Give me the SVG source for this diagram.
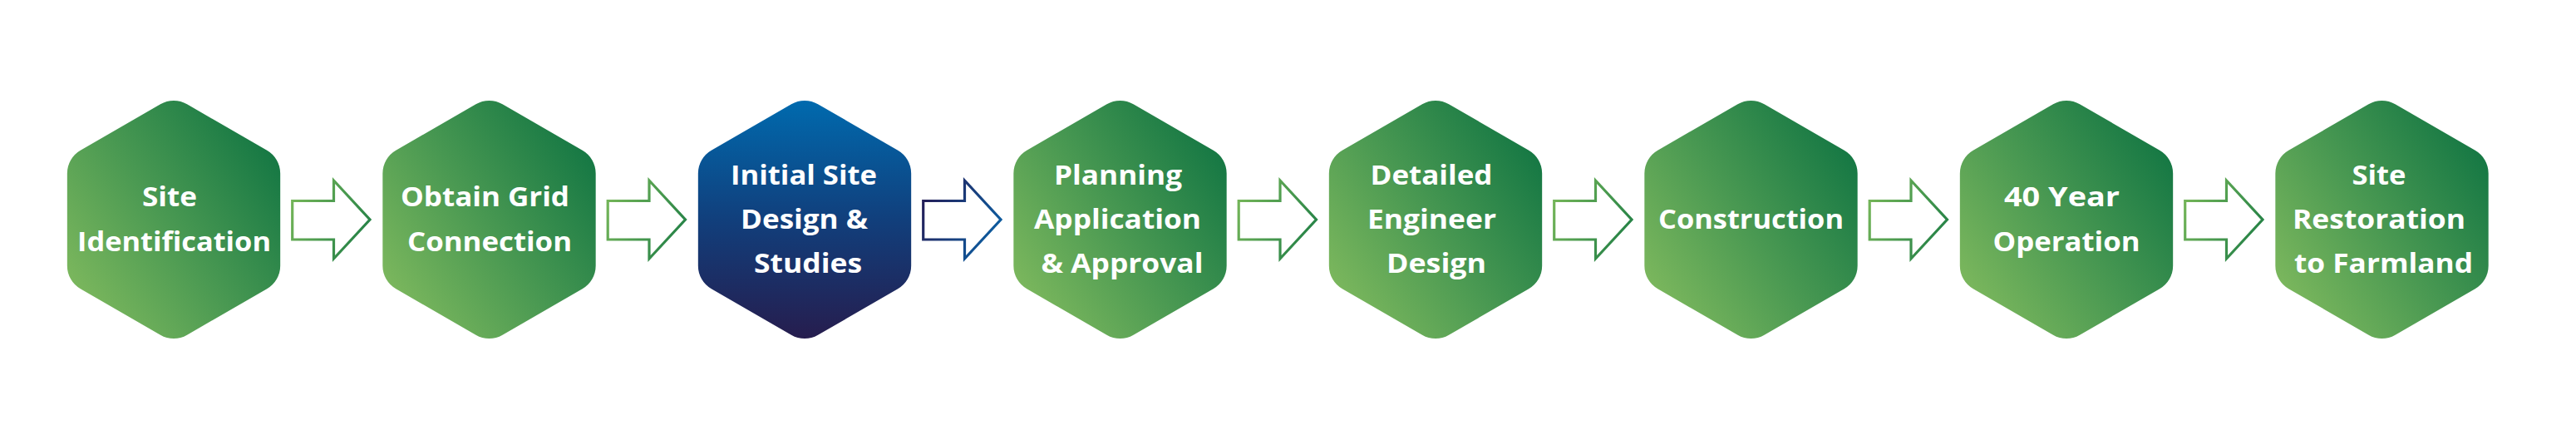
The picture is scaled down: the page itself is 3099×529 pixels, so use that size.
<svg xmlns="http://www.w3.org/2000/svg" xmlns:xlink="http://www.w3.org/1999/xlink" width="3099" height="529" viewBox="0 0 3099 529">
<defs>
<linearGradient id="gGreen" x1="0.05" y1="0.9" x2="0.95" y2="0.2">
<stop offset="0" stop-color="#80ba5e"/>
<stop offset="0.5" stop-color="#4a9952"/>
<stop offset="1" stop-color="#167844"/>
</linearGradient>
<linearGradient id="gBlue" x1="0" y1="0" x2="0" y2="1">
<stop offset="0" stop-color="#006aae"/>
<stop offset="0.5" stop-color="#113f7c"/>
<stop offset="1" stop-color="#261d4e"/>
</linearGradient>
<linearGradient id="aGreen" x1="0" y1="0.3" x2="1" y2="0.8">
<stop offset="0" stop-color="#72b458"/>
<stop offset="1" stop-color="#1f7e45"/>
</linearGradient>
<linearGradient id="aBlue" x1="0" y1="0.3" x2="1" y2="0.8">
<stop offset="0" stop-color="#24205a"/>
<stop offset="1" stop-color="#0b62a6"/>
</linearGradient>
<path id="hex" d="M-16,-138.76 A32,32 0 0 1 16,-138.76 L112.17,-83.24 A32,32 0 0 1 128.17,-55.52 L128.17,55.52 A32,32 0 0 1 112.17,83.24 L16,138.76 A32,32 0 0 1 -16,138.76 L-112.17,83.24 A32,32 0 0 1 -128.17,55.52 L-128.17,-55.52 A32,32 0 0 1 -112.17,-83.24 Z"/>
</defs>
<style>
.lbl{font-family:"Open Sans","Liberation Sans",sans-serif;font-weight:700;font-size:32px;fill:#ffffff;text-anchor:middle}
.arr{fill:#ffffff;stroke-width:3.2;stroke-linejoin:miter;stroke-miterlimit:10}
</style>
<rect width="3099" height="529" fill="#ffffff"/>
<g id="connectors">
<path class="arr" stroke="url(#aGreen)" transform="translate(209,0)" d="M142.7,241.5 H192.5 V217 L236,264 L192.5,311 V288 H142.7 Z"/>
<path class="arr" stroke="url(#aGreen)" transform="translate(588.5,0)" d="M142.7,241.5 H192.5 V217 L236,264 L192.5,311 V288 H142.7 Z"/>
<path class="arr" stroke="url(#aBlue)" transform="translate(968,0)" d="M142.7,241.5 H192.5 V217 L236,264 L192.5,311 V288 H142.7 Z"/>
<path class="arr" stroke="url(#aGreen)" transform="translate(1347.5,0)" d="M142.7,241.5 H192.5 V217 L236,264 L192.5,311 V288 H142.7 Z"/>
<path class="arr" stroke="url(#aGreen)" transform="translate(1727,0)" d="M142.7,241.5 H192.5 V217 L236,264 L192.5,311 V288 H142.7 Z"/>
<path class="arr" stroke="url(#aGreen)" transform="translate(2106.5,0)" d="M142.7,241.5 H192.5 V217 L236,264 L192.5,311 V288 H142.7 Z"/>
<path class="arr" stroke="url(#aGreen)" transform="translate(2486,0)" d="M142.7,241.5 H192.5 V217 L236,264 L192.5,311 V288 H142.7 Z"/>
</g>
<g id="node1">
<use xlink:href="#hex" href="#hex" transform="translate(209,264)" fill="url(#gGreen)"/>
<text class="lbl" x="204" y="248.3" textLength="66" lengthAdjust="spacingAndGlyphs">Site</text>
<text class="lbl" x="209.5" y="301.7" textLength="233" lengthAdjust="spacingAndGlyphs">Identification</text>
</g>
<g id="node2">
<use xlink:href="#hex" href="#hex" transform="translate(588.5,264)" fill="url(#gGreen)"/>
<text class="lbl" x="583.5" y="248.3" textLength="203" lengthAdjust="spacingAndGlyphs">Obtain Grid</text>
<text class="lbl" x="589" y="301.7" textLength="198" lengthAdjust="spacingAndGlyphs">Connection</text>
</g>
<g id="node3">
<use xlink:href="#hex" href="#hex" transform="translate(968,264)" fill="url(#gBlue)"/>
<text class="lbl" x="967" y="221.7" textLength="176" lengthAdjust="spacingAndGlyphs">Initial Site</text>
<text class="lbl" x="967.5" y="275" textLength="153" lengthAdjust="spacingAndGlyphs">Design &amp;</text>
<text class="lbl" x="972" y="328.3" textLength="130" lengthAdjust="spacingAndGlyphs">Studies</text>
</g>
<g id="node4">
<use xlink:href="#hex" href="#hex" transform="translate(1347.5,264)" fill="url(#gGreen)"/>
<text class="lbl" x="1345" y="221.7" textLength="154" lengthAdjust="spacingAndGlyphs">Planning</text>
<text class="lbl" x="1344.5" y="275" textLength="201" lengthAdjust="spacingAndGlyphs">Application</text>
<text class="lbl" x="1350" y="328.3" textLength="195" lengthAdjust="spacingAndGlyphs">&amp; Approval</text>
</g>
<g id="node5">
<use xlink:href="#hex" href="#hex" transform="translate(1727,264)" fill="url(#gGreen)"/>
<text class="lbl" x="1722" y="221.7" textLength="147" lengthAdjust="spacingAndGlyphs">Detailed</text>
<text class="lbl" x="1722.5" y="275" textLength="155" lengthAdjust="spacingAndGlyphs">Engineer</text>
<text class="lbl" x="1728" y="328.3" textLength="120" lengthAdjust="spacingAndGlyphs">Design</text>
</g>
<g id="node6">
<use xlink:href="#hex" href="#hex" transform="translate(2106.5,264)" fill="url(#gGreen)"/>
<text class="lbl" x="2106.5" y="275" textLength="223" lengthAdjust="spacingAndGlyphs">Construction</text>
</g>
<g id="node7">
<use xlink:href="#hex" href="#hex" transform="translate(2486,264)" fill="url(#gGreen)"/>
<text class="lbl" x="2480.5" y="248.3" textLength="139" lengthAdjust="spacingAndGlyphs">40 Year</text>
<text class="lbl" x="2486" y="301.7" textLength="177" lengthAdjust="spacingAndGlyphs">Operation</text>
</g>
<g id="node8">
<use xlink:href="#hex" href="#hex" transform="translate(2865.5,264)" fill="url(#gGreen)"/>
<text class="lbl" x="2862" y="221.7" textLength="65" lengthAdjust="spacingAndGlyphs">Site</text>
<text class="lbl" x="2862" y="275" textLength="208" lengthAdjust="spacingAndGlyphs">Restoration</text>
<text class="lbl" x="2867.5" y="328.3" textLength="215" lengthAdjust="spacingAndGlyphs">to Farmland</text>
</g>
</svg>
